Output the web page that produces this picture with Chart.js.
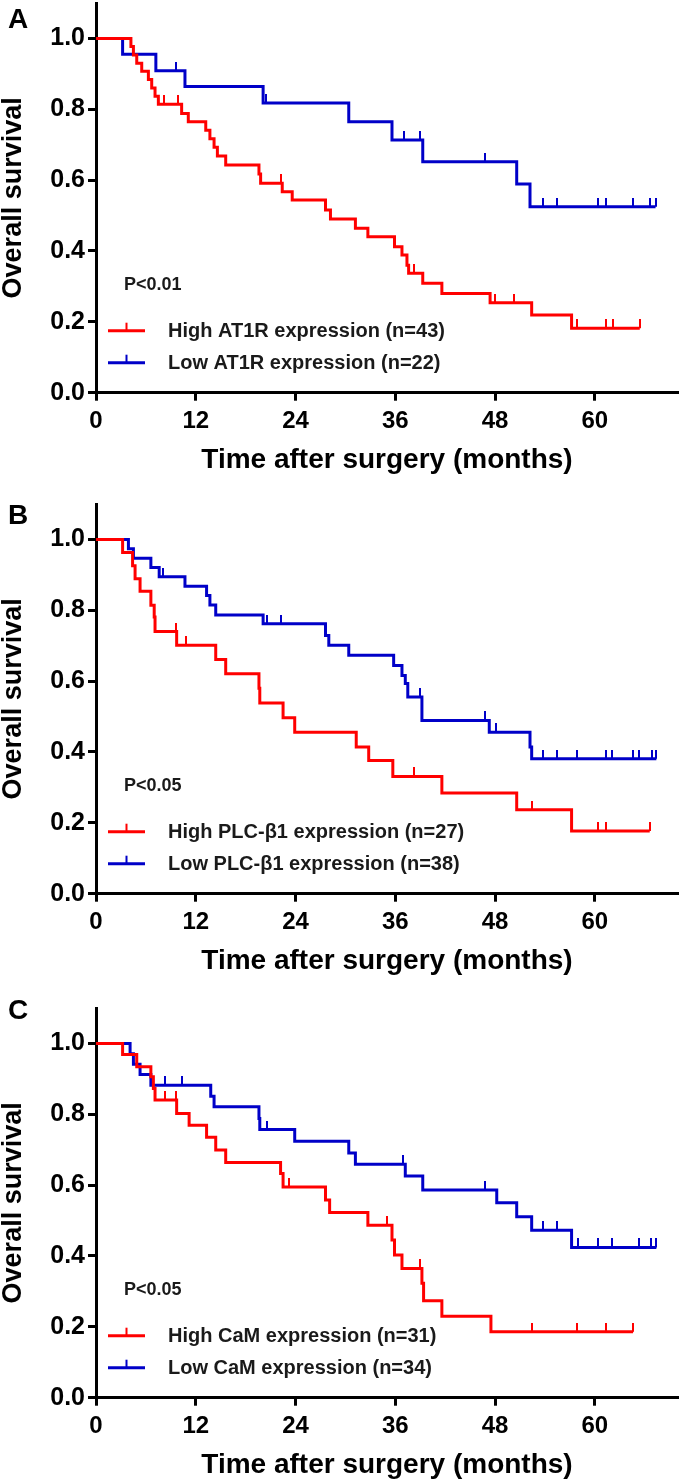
<!DOCTYPE html>
<html>
<head>
<meta charset="utf-8">
<script src="https://cdn.jsdelivr.net/npm/chart.js@4.4.1/dist/chart.umd.min.js"></script>
<style>
  html, body { margin: 0; padding: 0; background: #fff; }
  body { width: 685px; height: 1479px; position: relative; overflow: hidden; }
  canvas { position: absolute; left: 0; }
</style>
</head>
<body>
<canvas id="cA" width="685" height="494" style="top:-20px"></canvas>
<canvas id="cB" width="685" height="494" style="top:481px"></canvas>
<canvas id="cC" width="685" height="494" style="top:985px"></canvas>
<script>
// axis ticks (months / survival)
const xTicks = [0, 12, 24, 36, 48, 60];
const yTicks = [0, 0.2, 0.4, 0.6, 0.8, 1.0];

// panel A - AT1R
const labelsA = ['High AT1R expression (n=43)', 'Low AT1R expression (n=22)'];
const highA_t = [4.2, 4.5, 4.9, 5.5, 6.3, 6.7, 7.1, 7.5, 10.3, 11.1, 13.2, 13.7, 14.2, 14.6, 15.6, 19.6, 19.8, 22.4, 23.6, 27.6, 28.2, 31.2, 32.7, 35.9, 36.8, 37.4, 37.6, 39.3, 41.6, 47.4, 52.4, 57.2];
const highA_s = [0.977, 0.953, 0.930, 0.907, 0.884, 0.860, 0.837, 0.814, 0.788, 0.765, 0.741, 0.717, 0.693, 0.668, 0.643, 0.617, 0.591, 0.567, 0.544, 0.516, 0.490, 0.464, 0.440, 0.412, 0.389, 0.360, 0.337, 0.309, 0.280, 0.254, 0.219, 0.182];
const highA_cens = [8.2, 9.9, 22.2, 38.3, 48.0, 50.3, 57.9, 61.3, 62.2, 65.4];
const lowA_t = [3.2, 7.2, 10.7, 20.1, 30.4, 35.6, 39.3, 50.6, 52.2];
const lowA_s = [0.955, 0.909, 0.864, 0.818, 0.765, 0.713, 0.652, 0.589, 0.525];
const lowA_cens = [9.6, 20.4, 37.0, 39.0, 46.8, 53.8, 55.4, 60.4, 61.4, 64.6, 66.6, 67.3];

// panel B - PLC-b1
const labelsB = ['High PLC-\u03b21 expression (n=27)', 'Low PLC-\u03b21 expression (n=38)'];
const highB_t = [3.2, 4.4, 4.7, 5.3, 6.6, 7.0, 7.1, 9.7, 14.4, 15.6, 19.6, 19.7, 22.5, 23.9, 31.3, 32.8, 35.7, 41.6, 50.6, 57.2];
const highB_s = [0.963, 0.926, 0.889, 0.854, 0.814, 0.781, 0.740, 0.701, 0.661, 0.621, 0.580, 0.538, 0.497, 0.456, 0.414, 0.376, 0.331, 0.284, 0.237, 0.177];
const highB_cens = [9.65, 10.85, 38.3, 52.4, 60.4, 61.3, 66.6];
const lowB_t = [3.9, 4.5, 6.6, 7.6, 10.7, 13.3, 13.7, 14.4, 20.1, 27.6, 28.0, 30.4, 35.8, 36.8, 37.2, 37.5, 39.2, 47.3, 52.2, 52.4];
const lowB_s = [0.974, 0.947, 0.921, 0.895, 0.868, 0.842, 0.815, 0.787, 0.762, 0.729, 0.701, 0.673, 0.644, 0.616, 0.593, 0.555, 0.489, 0.456, 0.414, 0.381];
const lowB_cens = [8.1, 20.6, 22.2, 39.0, 46.8, 48.1, 53.8, 55.4, 57.9, 61.4, 62.1, 64.6, 65.3, 66.9, 67.4];

// panel C - CaM
const labelsC = ['High CaM expression (n=31)', 'Low CaM expression (n=34)'];
const highC_t = [3.2, 4.9, 6.6, 6.9, 7.1, 9.7, 11.2, 13.3, 14.4, 15.6, 22.2, 22.5, 27.6, 28.1, 32.7, 35.6, 35.9, 36.8, 39.2, 39.4, 41.6, 47.5];
const highC_s = [0.969, 0.934, 0.906, 0.873, 0.840, 0.802, 0.769, 0.735, 0.699, 0.664, 0.633, 0.595, 0.558, 0.523, 0.487, 0.445, 0.403, 0.365, 0.323, 0.274, 0.230, 0.186];
const highC_cens = [8.25, 9.6, 23.2, 35.0, 39.0, 52.4, 57.9, 61.4, 64.6];
const lowC_t = [4.1, 4.5, 5.3, 6.6, 13.8, 14.2, 19.6, 19.7, 23.9, 30.4, 31.2, 37.2, 39.3, 48.2, 50.6, 52.4, 57.2];
const lowC_s = [0.971, 0.941, 0.912, 0.882, 0.851, 0.821, 0.788, 0.757, 0.724, 0.691, 0.659, 0.626, 0.586, 0.550, 0.511, 0.473, 0.424];
const lowC_cens = [8.25, 10.4, 20.6, 36.9, 46.8, 53.8, 55.4, 58.0, 60.4, 62.1, 65.3, 66.7, 67.4];

const RED = '#ff0000';
const BLUE = '#0000c8';
const FONT = '"Liberation Sans", Arial, sans-serif';

// little upward tick used for censored patients
function censorMark(color) {
  const c = document.createElement('canvas');
  c.width = 2;
  c.height = 18;
  const g = c.getContext('2d');
  g.fillStyle = color;
  g.fillRect(0, 0, 2, 9);
  return c;
}

function kmPoints(times, surv, cens) {
  const pts = [{x: 0, y: 1, c: false}];
  times.forEach((t, i) => pts.push({x: t, y: surv[i], c: false}));
  cens.forEach(t => {
    let s = 1;
    times.forEach((e, i) => { if (e <= t) s = surv[i]; });
    pts.push({x: t, y: s, c: true});
  });
  pts.sort((a, b) => a.x - b.x);
  return pts;
}

const panelText = {
  id: 'panelText',
  afterDraw(chart, args, opts) {
    const ctx = chart.ctx;
    const a = chart.chartArea;
    ctx.save();
    ctx.textBaseline = 'middle';
    ctx.fillStyle = '#000';
    ctx.font = 'bold 28px ' + FONT;
    ctx.fillText(opts.letter, 8, opts.letterY);
    ctx.fillStyle = '#1a1a1a';
    ctx.font = 'bold 18px ' + FONT;
    ctx.fillText(opts.p, a.left + 28, a.bottom - 108);
    ctx.font = 'bold 20px ' + FONT;
    chart.data.datasets.forEach((ds, i) => {
      const y = a.bottom - 62 + i * 32;
      ctx.strokeStyle = ds.borderColor;
      ctx.lineWidth = 3;
      ctx.beginPath();
      ctx.moveTo(a.left + 12, y);
      ctx.lineTo(a.left + 49, y);
      ctx.stroke();
      ctx.fillStyle = ds.borderColor;
      ctx.fillRect(a.left + 29.5, y - 8, 2, 8);
      ctx.fillStyle = '#1a1a1a';
      ctx.fillText(ds.label, a.left + 72, y + 1);
    });
    ctx.restore();
  }
};

function makePanel(id, letter, letterY, pText, labels, high, low) {
  new Chart(document.getElementById(id), {
    type: 'line',
    data: {
      datasets: [
        {label: labels[0], data: high, borderColor: RED, pointStyle: censorMark(RED)},
        {label: labels[1], data: low, borderColor: BLUE, pointStyle: censorMark(BLUE)}
      ].map(d => Object.assign(d, {
        borderWidth: 3,
        stepped: 'before',
        fill: false,
        borderCapStyle: 'butt',
        borderJoinStyle: 'miter',
        pointRadius: ctx => (ctx.raw && ctx.raw.c ? 4 : 0),
        pointHoverRadius: 0
      }))
    },
    options: {
      responsive: false,
      animation: false,
      devicePixelRatio: 1,
      events: [],
      layout: {padding: {top: 23, right: 4, left: 0, bottom: 0}},
      plugins: {
        legend: {display: false},
        tooltip: {enabled: false},
        panelText: {letter: letter, letterY: letterY, p: pText}
      },
      scales: {
        x: {
          type: 'linear',
          min: 0,
          max: 70,
          afterFit: s => { s.height = 81.3; },
          afterBuildTicks: s => { s.ticks = xTicks.map(v => ({value: v})); },
          grid: {drawOnChartArea: false, drawTicks: true, tickLength: 8, tickWidth: 3, tickColor: '#000'},
          border: {display: true, color: '#000', width: 3},
          ticks: {color: '#000', padding: 6, maxRotation: 0, autoSkip: false,
            font: {family: FONT, size: 24, weight: 'bold'}},
          title: {display: true, text: 'Time after surgery (months)', color: '#000',
            padding: {top: 0, bottom: 0},
            font: {family: FONT, size: 28, weight: 'bold', lineHeight: 1}}
        },
        y: {
          min: 0,
          max: 1.1,
          afterFit: s => { s.width = 96; },
          afterBuildTicks: s => { s.ticks = yTicks.map(v => ({value: v})); },
          grid: {drawOnChartArea: false, drawTicks: true, tickLength: 8, tickWidth: 3, tickColor: '#000'},
          border: {display: true, color: '#000', width: 3},
          ticks: {color: '#000', padding: 3, callback: v => v.toFixed(1),
            font: {family: FONT, size: 25, weight: 'bold'}},
          title: {display: true, text: 'Overall survival', color: '#000',
            padding: {top: 0, bottom: 0},
            font: {family: FONT, size: 27, weight: 'bold', lineHeight: 1}}
        }
      }
    },
    plugins: [panelText]
  });
}

makePanel('cA', 'A', 40, 'P<0.01', labelsA,
  kmPoints(highA_t, highA_s, highA_cens), kmPoints(lowA_t, lowA_s, lowA_cens));
makePanel('cB', 'B', 35, 'P<0.05', labelsB,
  kmPoints(highB_t, highB_s, highB_cens), kmPoints(lowB_t, lowB_s, lowB_cens));
makePanel('cC', 'C', 26, 'P<0.05', labelsC,
  kmPoints(highC_t, highC_s, highC_cens), kmPoints(lowC_t, lowC_s, lowC_cens));
</script>
</body>
</html>
